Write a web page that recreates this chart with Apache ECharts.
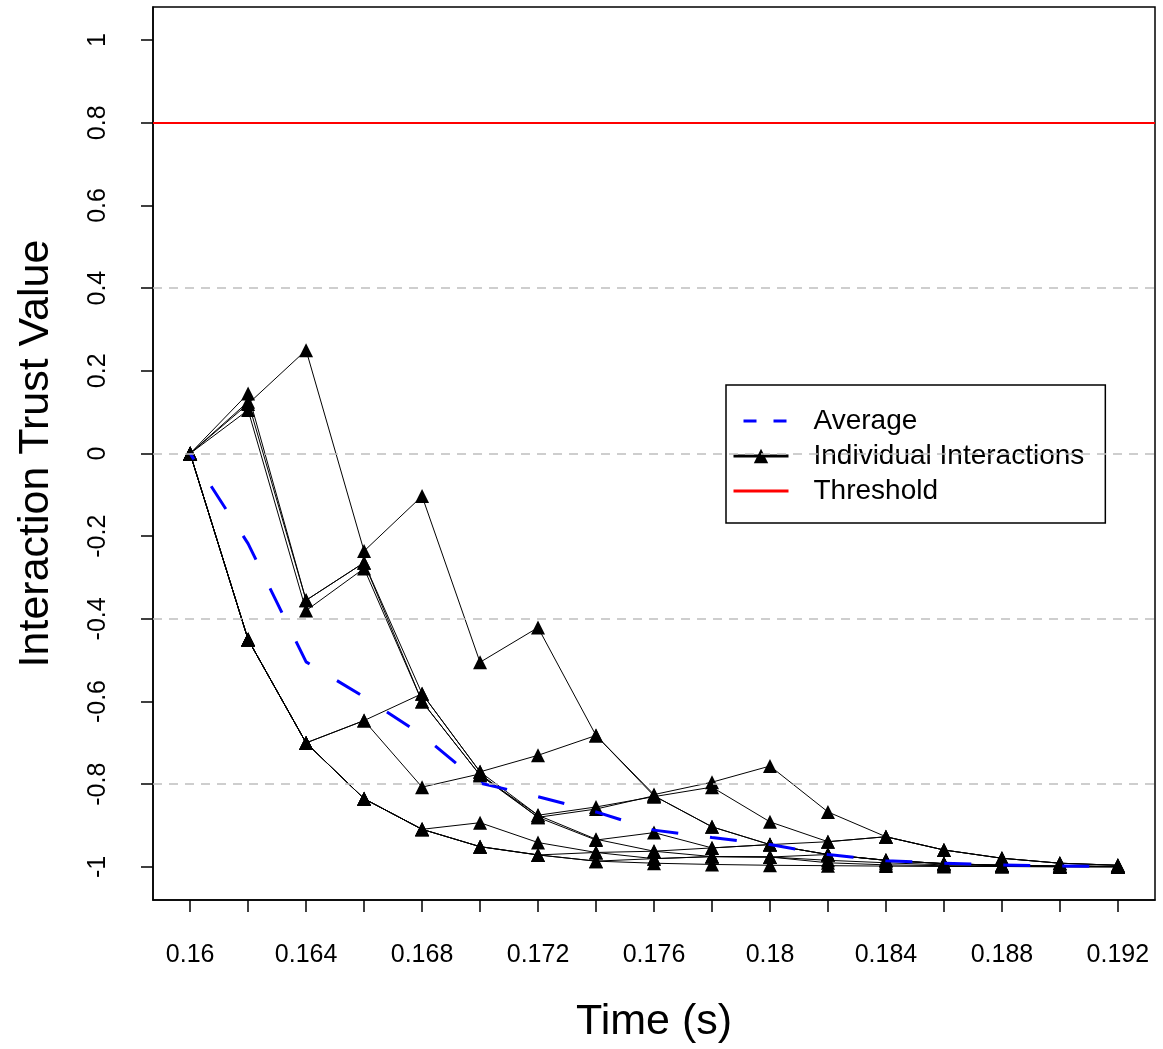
<!DOCTYPE html>
<html>
<head>
<meta charset="utf-8">
<script src="https://cdn.jsdelivr.net/npm/echarts@6/dist/echarts.min.js"></script>
<style>
html,body{margin:0;padding:0;background:#fff;}
#chart{width:1163px;height:1049px;}
</style>
</head>
<body>
<div id="chart"></div>
<script>
// ---- data ----
const times = [0.160, 0.162, 0.164, 0.166, 0.168, 0.170, 0.172, 0.174, 0.176, 0.178, 0.180, 0.182, 0.184, 0.186, 0.188, 0.190, 0.192];
const averageValues = [0, -0.218, -0.504, -0.589, -0.681, -0.797, -0.830, -0.867, -0.911, -0.929, -0.946, -0.970, -0.985, -0.991, -0.995, -0.998, -0.999];
const interaction1 = [0, 0.120, 0.250, -0.236, -0.103, -0.505, -0.421, -0.682, -0.828, -0.903, -0.946, -0.970, -0.984, -0.992, -0.996, -0.998, -0.999];
const interaction2 = [0, 0.145, -0.355, -0.264, -0.581, -0.770, -0.730, -0.682, -0.825, -0.795, -0.756, -0.867, -0.927, -0.959, -0.979, -0.991, -0.996];
const interaction3 = [0, 0.125, -0.355, -0.264, -0.600, -0.778, -0.875, -0.855, -0.830, -0.807, -0.891, -0.939, -0.927, -0.959, -0.979, -0.991, -0.996];
const interaction4 = [0, 0.105, -0.380, -0.278, -0.600, -0.778, -0.880, -0.860, -0.828, -0.903, -0.946, -0.970, -0.984, -0.992, -0.996, -0.998, -0.999];
const interaction5 = [0, -0.450, -0.700, -0.646, -0.581, -0.770, -0.875, -0.933, -0.962, -0.954, -0.946, -0.939, -0.927, -0.959, -0.979, -0.991, -0.996];
const interaction6 = [0, -0.450, -0.700, -0.646, -0.807, -0.775, -0.880, -0.935, -0.917, -0.954, -0.946, -0.970, -0.984, -0.992, -0.996, -0.998, -0.999];
const interaction7 = [0, -0.450, -0.700, -0.835, -0.909, -0.893, -0.941, -0.965, -0.980, -0.975, -0.976, -0.984, -0.990, -0.995, -0.997, -0.999, -0.999];
const interaction8 = [0, -0.450, -0.700, -0.835, -0.909, -0.951, -0.971, -0.965, -0.962, -0.975, -0.976, -0.970, -0.984, -0.992, -0.996, -0.998, -0.999];
const interaction9 = [0, -0.450, -0.700, -0.835, -0.909, -0.951, -0.971, -0.986, -0.991, -0.994, -0.996, -0.997, -0.998, -0.999, -0.999, -1.000, -1.000];
const interaction10 = [0, -0.450, -0.700, -0.835, -0.909, -0.951, -0.971, -0.986, -0.980, -0.975, -0.976, -0.990, -0.995, -0.997, -0.999, -0.999, -1.000];
const interactions = [interaction1, interaction2, interaction3, interaction4, interaction5,
                      interaction6, interaction7, interaction8, interaction9, interaction10];
const thresholdValue = 0.8;
const gridLineValues = [0.4, 0, -0.4, -0.8];
const xTickValues = [0.160, 0.162, 0.164, 0.166, 0.168, 0.170, 0.172, 0.174, 0.176, 0.178, 0.180, 0.182, 0.184, 0.186, 0.188, 0.190, 0.192];
const xLabelValues = [0.160, 0.164, 0.168, 0.172, 0.176, 0.180, 0.184, 0.188, 0.192];
const yTickValues = [-1, -0.8, -0.6, -0.4, -0.2, 0, 0.2, 0.4, 0.6, 0.8, 1];
const xRange = [0.15872, 0.19328];
const yRange = [-1.08, 1.08];

// ---- chart ----
const FONT = '"Liberation Sans", Arial, Helvetica, sans-serif';
const chart = echarts.init(document.getElementById('chart'), null, {renderer: 'canvas'});

const pairs = arr => times.map((t, i) => [t, arr[i]]);

const series = [];
series.push({
  name: 'Average',
  type: 'line',
  data: pairs(averageValues),
  symbol: 'none',
  lineStyle: {color: '#0000ff', width: 3, type: [27, 32], dashOffset: 20},
  itemStyle: {color: '#0000ff'},
  z: 4
});
interactions.forEach((vals) => {
  series.push({
    name: 'Individual Interactions',
    type: 'line',
    data: pairs(vals),
    symbol: 'triangle',
    symbolSize: 14,
    showSymbol: true,
    lineStyle: {color: '#000', width: 1},
    itemStyle: {color: '#000'},
    z: 3,
    silent: true
  });
});
series.push({
  name: 'Threshold',
  type: 'line',
  data: [],
  symbol: 'none',
  lineStyle: {color: '#ff0000', width: 2},
  itemStyle: {color: '#ff0000'},
  markLine: {
    silent: true,
    symbol: 'none',
    label: {show: false},
    lineStyle: {color: '#ff0000', width: 2, type: 'solid'},
    data: [{yAxis: thresholdValue}]
  },
  z: 2
});
series.push({
  name: 'gridlines',
  type: 'line',
  data: [],
  symbol: 'none',
  markLine: {
    silent: true,
    symbol: 'none',
    label: {show: false},
    lineStyle: {color: '#bebebe', width: 1.5, type: [9, 7]},
    data: gridLineValues.map(v => ({yAxis: v}))
  },
  z: 1
});

chart.setOption({
  animation: false,
  backgroundColor: '#fff',
  textStyle: {fontFamily: FONT},
  grid: {left: 153, right: 8, top: 7, bottom: 147, show: true, borderColor: '#000', borderWidth: 1.5, backgroundColor: 'transparent'},
  legend: {
    data: [
      {name: 'Average', itemStyle: {opacity: 0}, lineStyle: {color: '#0000ff', width: 3, type: [13, 17]}},
      {name: 'Individual Interactions', lineStyle: {color: '#000', width: 3}},
      {name: 'Threshold', itemStyle: {opacity: 0}, lineStyle: {color: '#ff0000', width: 3}}
    ],
    orient: 'vertical',
    left: 726,
    top: 385,
    itemWidth: 55,
    itemHeight: 18,
    itemGap: 7,
    padding: [22, 21, 18, 6],
    borderColor: '#000',
    borderWidth: 1.5,
    backgroundColor: '#fff',
    textStyle: {fontFamily: FONT, fontSize: 28, color: '#000', padding: [0, 0, 0, 20]},
    selectedMode: false
  },
  xAxis: {
    type: 'value',
    min: xRange[0],
    max: xRange[1],
    name: 'Time (s)',
    nameLocation: 'middle',
    nameGap: 101,
    nameTextStyle: {fontSize: 43, color: '#000', fontFamily: FONT},
    axisLine: {show: true, onZero: false, lineStyle: {color: '#000', width: 1.5}},
    axisTick: {show: true, length: 12, lineStyle: {color: '#000', width: 1.5}, customValues: xTickValues},
    axisLabel: {show: true, fontSize: 25, color: '#000', margin: 43, fontFamily: FONT,
      customValues: xLabelValues,
      formatter: v => String(parseFloat(v.toFixed(3)))},
    splitLine: {show: false}
  },
  yAxis: {
    type: 'value',
    min: yRange[0],
    max: yRange[1],
    name: 'Interaction Trust Value',
    nameLocation: 'middle',
    nameGap: 95,
    nameTextStyle: {fontSize: 43, color: '#000', fontFamily: FONT},
    axisLine: {show: true, onZero: false, lineStyle: {color: '#000', width: 1.5}},
    axisTick: {show: true, length: 12, lineStyle: {color: '#000', width: 1.5}, customValues: yTickValues},
    axisLabel: {show: true, fontSize: 25, color: '#000', margin: 42, rotate: 90, fontFamily: FONT,
      customValues: yTickValues,
      formatter: v => String(parseFloat(v.toFixed(2)))},
    splitLine: {show: false}
  },
  series: series
});
</script>
</body>
</html>
